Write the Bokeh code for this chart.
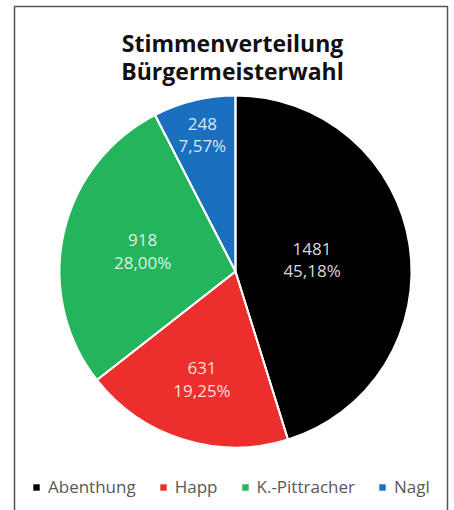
import math
from bokeh.plotting import figure
from bokeh.models import Range1d, ColumnDataSource, Legend, LegendItem
from bokeh.core.properties import value
from bokeh.embed import file_html
from bokeh.resources import INLINE

# ---- data ----
title_lines = ["Stimmenverteilung", "Bürgermeisterwahl"]
candidates = ["Abenthung", "Happ", "K.-Pittracher", "Nagl"]
votes = [1481, 631, 918, 248]
colors = ["#000000", "#EC2E2C", "#24B45C", "#1A6FBE"]
label_radius = [0.44, 0.64, 0.54, 0.80]   # label distance as fraction of radius

# ---- layout (page pixel coordinates) ----
W, H = 454, 510
OX, OY = 0, 0


def px(x):
    return x - OX


def py(y):
    return (OY + H) - y


CX, CY, R = px(235), py(271), 176

total = sum(votes)
fracs = [v / total for v in votes]
pct_text = [f"{f * 100:.2f}".replace(".", ",") + "%" for f in fracs]
num_text = [str(v) for v in votes]

starts, ends, lx, ly = [], [], [], []
cum = 0.0
for f, lr in zip(fracs, label_radius):
    a_end = math.pi / 2 - 2 * math.pi * cum
    a_start = math.pi / 2 - 2 * math.pi * (cum + f)
    starts.append(a_start)
    ends.append(a_end)
    mid = (a_start + a_end) / 2
    lx.append(CX + lr * R * math.cos(mid))
    ly.append(CY + lr * R * math.sin(mid))
    cum += f

src = ColumnDataSource(dict(
    candidate=candidates, votes=votes, color=colors,
    start=starts, end=ends, lx=lx, ly=ly,
    ly1=[y + 11 for y in ly], ly2=[y - 11 for y in ly],
    num=num_text, pct=pct_text,
))

p = figure(width=W, height=H, output_backend="svg", toolbar_location=None,
           x_range=Range1d(0, W), y_range=Range1d(0, H),
           x_axis_location=None, y_axis_location=None, min_border=0,
           tools="")
p.grid.visible = False
p.outline_line_color = None
p.background_fill_color = "white"
p.border_fill_color = "white"

# frame border
p.line(x=[px(14), px(14), px(447), px(447)], y=[py(515), py(6), py(6), py(515)],
       line_color="#555555", line_width=1.5)

# pie
wr = p.wedge(x=CX, y=CY, radius=R, start_angle="start", end_angle="end",
             fill_color="color", line_color=None, source=src)
p.wedge(x=CX, y=CY, radius=R, start_angle="start", end_angle="end",
        fill_color=None, line_color="white", line_width=2, source=src)

# labels
common = dict(text_align="center", text_baseline="middle",
              text_font=value("Open Sans"), text_font_size="17px",
              text_color="white", text_alpha=0.85, source=src)
p.text(x="lx", y="ly1", text="num", **common)
p.text(x="lx", y="ly2", text="pct", **common)

# title
p.text(x=[px(232)] * 2, y=[py(42), py(70)], text=title_lines,
       text_align="center", text_baseline="alphabetic",
       text_font=value("Open Sans"), text_font_style="bold",
       text_font_size="23px", text_color="#111111")

# legend
legend = Legend(items=[LegendItem(label=c, renderers=[wr], index=i)
                       for i, c in enumerate(candidates)],
                orientation="horizontal", location=(32, 12),
                border_line_color=None, background_fill_alpha=0,
                padding=0, margin=0, spacing=23, label_standoff=8,
                glyph_width=8, glyph_height=8,
                label_text_font="Open Sans", label_text_font_size="17px",
                label_text_color="#595959")
p.add_layout(legend, "center")

open("out.html", "w").write(file_html(p, INLINE))
